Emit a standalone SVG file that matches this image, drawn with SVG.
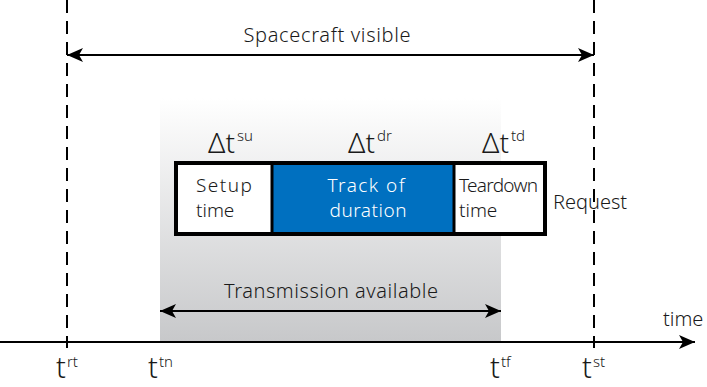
<svg xmlns="http://www.w3.org/2000/svg" width="707" height="387" viewBox="0 0 707 387">
<defs>
<linearGradient id="g" x1="0" y1="0" x2="0" y2="1">
<stop offset="0" stop-color="#ffffff"/>
<stop offset="1" stop-color="#c7c8ca"/>
</linearGradient>
<marker id="ah" viewBox="0 0 16 14" refX="16" refY="7" markerWidth="16" markerHeight="14" markerUnits="userSpaceOnUse" orient="auto-start-reverse">
<path d="M0,0 L16,7 L0,14 L4,7 Z" fill="#000"/>
</marker>
</defs>
<style>
text{font-family:"Noto Sans","DejaVu Sans",sans-serif;fill:#1a1a1a;font-weight:300}
.lbl{font-size:20px}
.box{font-size:19px}
.req{font-size:20px}
.dl{font-size:28px}
.tl{font-size:29px}
.sup{font-size:15px}
.dash{stroke:#000;stroke-width:2;stroke-dasharray:13,8;fill:none}
.ln{stroke:#000;stroke-width:2;fill:none}
</style>
<rect id="band" x="160" y="98" width="341" height="244" fill="url(#g)"/>
<g id="connectors">
<line class="dash" x1="67" y1="0" x2="67" y2="348"/>
<line class="dash" x1="594" y1="0" x2="594" y2="348"/>
<line class="ln" x1="67" y1="55" x2="594" y2="55" marker-start="url(#ah)" marker-end="url(#ah)"/>
<line class="ln" x1="160" y1="311" x2="501" y2="311" marker-start="url(#ah)" marker-end="url(#ah)"/>
<line class="ln" x1="0" y1="342" x2="695" y2="342" marker-end="url(#ah)"/>
</g>
<g id="labels">
<text class="lbl" x="327" y="42" text-anchor="middle" textLength="167">Spacecraft visible</text>
<text class="lbl" x="331" y="298" text-anchor="middle" textLength="214">Transmission available</text>
<text class="lbl" x="663" y="326">time</text>
</g>
<g id="request">
<rect x="176" y="163" width="369" height="71" fill="#fff" stroke="#000" stroke-width="4"/>
<rect x="273" y="165" width="180" height="67" fill="#0070c0"/>
<line x1="272" y1="163" x2="272" y2="234" stroke="#000" stroke-width="3"/>
<line x1="454" y1="163" x2="454" y2="234" stroke="#000" stroke-width="3"/>
<text class="box" x="196" y="192" textLength="56">Setup</text>
<text class="box" x="196" y="217">time</text>
<text class="box" x="366" y="192" text-anchor="middle" style="fill:#fff" textLength="77">Track of</text>
<text class="box" x="368" y="217" text-anchor="middle" style="fill:#fff" textLength="77">duration</text>
<text class="box" x="459" y="192" textLength="79">Teardown</text>
<text class="box" x="459" y="217">time</text>
<text class="req" x="553" y="209">Request</text>
</g>
<g id="deltas">
<text class="dl" x="208" y="153">Δt<tspan class="sup" dx="2" dy="-12">su</tspan></text>
<text class="dl" x="348" y="153">Δt<tspan class="sup" dx="2" dy="-12">dr</tspan></text>
<text class="dl" x="482" y="153">Δt<tspan class="sup" dx="2" dy="-12">td</tspan></text>
</g>
<g id="times">
<text class="tl" x="56" y="378">t<tspan class="sup" dx="1" dy="-11">rt</tspan></text>
<text class="tl" x="148" y="378">t<tspan class="sup" dx="1" dy="-11">tn</tspan></text>
<text class="tl" x="490" y="378">t<tspan class="sup" dx="1" dy="-11">tf</tspan></text>
<text class="tl" x="582" y="378">t<tspan class="sup" dx="1" dy="-11">st</tspan></text>
</g>
</svg>
